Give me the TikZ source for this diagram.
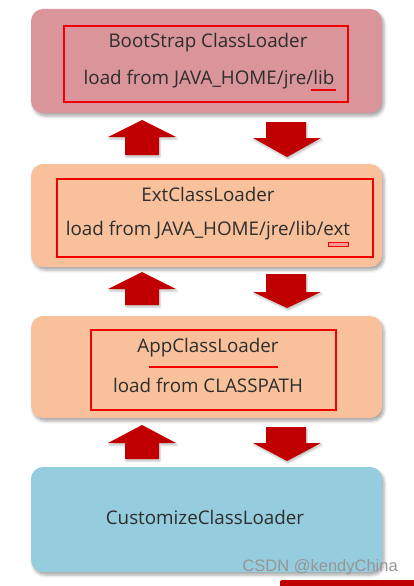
\documentclass[tikz,border=0pt]{standalone}
\usepackage{fontspec}
\setmainfont{Open Sans}
\newfontfamily\wmfont{Liberation Sans}
\usetikzlibrary{shadows.blur}
\definecolor{pinkc}{RGB}{217,149,154}
\definecolor{peachc}{RGB}{248,193,155}
\definecolor{bluec}{RGB}{149,205,222}
\definecolor{arrowc}{RGB}{192,0,0}
\definecolor{markc}{RGB}{240,0,0}
\definecolor{txtc}{RGB}{45,45,45}
\definecolor{wmc}{RGB}{150,150,150}
\tikzset{
  loaderbox/.style={rounded corners=12pt, minimum width=351pt, draw=none,
    blur shadow={shadow xshift=2pt, shadow yshift=-3pt, shadow blur radius=3pt, shadow opacity=35}},
  markbox/.style={draw=markc, line width=1.3pt, minimum width=#1},
  lbl/.style={font=\fontsize{18.8}{22}\selectfont, text=txtc, inner sep=0pt},
  blockarrow/.style={fill=arrowc, draw=none}
}
\begin{document}
\begin{tikzpicture}[x=1pt, y=-1pt]
\useasboundingbox (0,0) rectangle (413,586);
% boxes
\node[loaderbox, fill=pinkc, minimum height=104pt] (boot) at (206.5,61) {};
\node[loaderbox, fill=peachc, minimum height=103pt] (ext) at (206.5,215.5) {};
\node[loaderbox, fill=peachc, minimum height=102pt] (app) at (206.5,367) {};
\node[loaderbox, fill=bluec, minimum height=105pt] (cust) at (206.5,519.5) {};
% red frames
\node[markbox=284pt, minimum height=76pt] (bootframe) at (206,64) {};
\node[markbox=316pt, minimum height=78pt] (extframe) at (215,218) {};
\node[markbox=245pt, minimum height=80pt] (appframe) at (213.5,370) {};
% texts
\node[lbl] (boott) at (208,43) {BootStrap ClassLoader};
\node[lbl] (bootl) at (209,80) {load from JAVA\_HOME/jre/lib};
\node[lbl] (extt) at (208,194) {ExtClassLoader};
\node[lbl] (extl) at (208,231) {load from JAVA\_HOME/jre/lib/ext};
\node[lbl] (appt) at (208,348) {AppClassLoader};
\node[lbl] (appl) at (208,385) {load from CLASSPATH};
\node[lbl] (custt) at (205,517) {CustomizeClassLoader};
% marks
\draw[markc, line width=2pt] (311,90) -- (336,90);
\draw[markc, line width=1pt, fill=white!60!markc] (328,242) rectangle (348,246);
\draw[markc, line width=2.5pt] (149,367) -- (278,367);
% block arrows (up)
\foreach \t/\b/\e in {120/137/155, 272/289/305, 425/443/459}{
  \fill[blockarrow, blur shadow={shadow xshift=1pt, shadow yshift=-2pt, shadow blur radius=2pt, shadow opacity=25}]
    (142,\t) -- (176,\b) -- (159,\b) -- (159,\e) -- (125,\e) -- (125,\b) -- (108,\b) -- cycle;
}
% block arrows (down)
\foreach \t/\b/\e in {122/138/157, 274/292/308, 427/443/461}{
  \fill[blockarrow, blur shadow={shadow xshift=1pt, shadow yshift=-2pt, shadow blur radius=2pt, shadow opacity=25}]
    (266,\t) -- (306,\t) -- (306,\b) -- (321,\b) -- (287,\e) -- (253,\b) -- (266,\b) -- cycle;
}
% bottom cut-off element
\fill[arrowc, rounded corners=2pt] (280,590) -- (280,580) -- (420,580) -- (420,590) -- cycle;
% watermark
\node[font=\wmfont\fontsize{16.5}{18}\selectfont, text=wmc, anchor=east, inner sep=0pt] (wm) at (398,567) {CSDN @kendyChina};
\end{tikzpicture}
\end{document}
